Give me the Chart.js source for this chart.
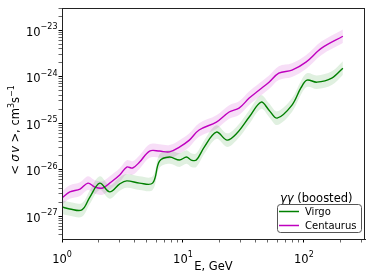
<!DOCTYPE html>
<html>
<head>
<meta charset="utf-8">
<script src="https://cdn.jsdelivr.net/npm/chart.js@4"></script>
<style>
    html, body { margin: 0; padding: 0; background: #fff; }
    canvas { display: block; }
</style>
</head>
<body>
<canvas id="sigmaChart" width="374" height="280"></canvas>
<script>
// Données (E en GeV, <σv> en cm^3 s^-1)
const virgoEnergy = [1.00, 1.16, 1.46, 1.70, 2.05, 2.48, 3.0, 3.43, 4.38, 5.61, 6.40, 7.74, 9.35, 10.7, 11.7, 12.9, 15.0, 18.9, 23.2, 28.0, 35.3, 44.3, 51.5, 60.1, 79.7, 94.4, 106, 128, 170, 210];
const virgoSigma = [1.56e-27, 1.42e-27, 1.35e-27, 2.56e-27, 5.1e-27, 3.3e-27, 4.9e-27, 5.7e-27, 5.1e-27, 5.1e-27, 1.52e-26, 1.86e-26, 1.6e-26, 1.86e-26, 1.6e-26, 1.6e-26, 3.05e-26, 6.4e-26, 4.3e-26, 6.1e-26, 1.35e-25, 2.83e-25, 1.9e-25, 1.28e-25, 2.44e-25, 5.7e-25, 8.4e-25, 7.6e-25, 9.3e-25, 1.52e-24];
const virgoLow = [1.11e-27, 1.01e-27, 0.96e-27, 1.83e-27, 3.64e-27, 2.36e-27, 3.5e-27, 4.07e-27, 3.64e-27, 3.64e-27, 1.09e-26, 1.33e-26, 1.14e-26, 1.33e-26, 1.14e-26, 1.14e-26, 2.18e-26, 4.57e-26, 3.07e-26, 4.36e-26, 0.96e-25, 2.02e-25, 1.36e-25, 0.91e-25, 1.74e-25, 4.07e-25, 6.0e-25, 5.43e-25, 6.64e-25, 1.09e-24];
const virgoHigh = [2.18e-27, 1.99e-27, 1.89e-27, 3.58e-27, 7.14e-27, 4.62e-27, 6.86e-27, 7.98e-27, 7.14e-27, 7.14e-27, 2.13e-26, 2.6e-26, 2.24e-26, 2.6e-26, 2.24e-26, 2.24e-26, 4.27e-26, 8.96e-26, 6.02e-26, 8.54e-26, 1.89e-25, 3.96e-25, 2.66e-25, 1.79e-25, 3.42e-25, 7.98e-25, 1.18e-24, 1.06e-24, 1.3e-24, 2.13e-24];

const centaurusEnergy = [1.00, 1.16, 1.41, 1.64, 1.87, 2.17, 2.48, 3.0, 3.43, 3.84, 4.38, 5.3, 6.4, 7.74, 9.35, 11.3, 13.6, 18.9, 24.1, 29.1, 35.3, 42.5, 51.5, 62.0, 79.7, 104, 140, 210];
const centaurusSigma = [2.44e-27, 3.3e-27, 3.8e-27, 5.1e-27, 4.2e-27, 4.0e-27, 5.1e-27, 7.6e-27, 1.13e-26, 1.08e-26, 1.45e-26, 2.5e-26, 2.5e-26, 2.4e-26, 3.05e-26, 4.3e-26, 7.1e-26, 1.05e-25, 1.73e-25, 2.1e-25, 3.45e-25, 5.1e-25, 7.6e-25, 1.19e-24, 1.38e-24, 2.05e-24, 4.1e-24, 7.4e-24];
const centaurusLow = [1.74e-27, 2.36e-27, 2.71e-27, 3.64e-27, 3.0e-27, 2.86e-27, 3.64e-27, 5.43e-27, 8.07e-27, 7.71e-27, 1.04e-26, 1.79e-26, 1.79e-26, 1.71e-26, 2.18e-26, 3.07e-26, 5.07e-26, 7.5e-26, 1.24e-25, 1.5e-25, 2.46e-25, 3.64e-25, 5.43e-25, 8.5e-25, 9.86e-25, 1.46e-24, 2.93e-24, 5.29e-24];
const centaurusHigh = [3.42e-27, 4.62e-27, 5.32e-27, 7.14e-27, 5.88e-27, 5.6e-27, 7.14e-27, 1.06e-26, 1.58e-26, 1.51e-26, 2.03e-26, 3.5e-26, 3.5e-26, 3.36e-26, 4.27e-26, 6.02e-26, 9.94e-26, 1.47e-25, 2.42e-25, 2.94e-25, 4.83e-25, 7.14e-25, 1.06e-24, 1.67e-24, 1.93e-24, 2.87e-24, 5.74e-24, 1.04e-23];

const seriesLabels = ['Virgo', 'Centaurus'];
const legendTitle = 'γγ (boosted)';

// Graduations : puissances de 10
const xTickExponents = [0, 1, 2];
const yTickExponents = [-27, -26, -25, -24, -23];

const GREEN = '#008000';
const MAGENTA = '#bf00bf';
const FONT = '"DejaVu Sans", sans-serif';
const TENSION = 0.35;

function toPoints(xs, ys) {
    return xs.map((x, i) => ({ x: x, y: ys[i] }));
}

function isDecade(v) {
    const l = Math.log10(v);
    return Math.abs(l - Math.round(l)) < 1e-6;
}

// Graduations mineures 1..9 x 10^n
function logTicks(scale) {
    const ticks = [];
    const lo = Math.floor(Math.log10(scale.min));
    const hi = Math.ceil(Math.log10(scale.max));
    for (let e = lo; e <= hi; e++) {
        for (let m = 1; m <= 9; m++) {
            const v = m * Math.pow(10, e);
            if (v >= scale.min * 0.9999 && v <= scale.max * 1.0001) {
                ticks.push({ value: v, major: m === 1 });
            }
        }
    }
    scale.ticks = ticks;
}

// Texte avec exposants
function drawRich(ctx, parts, x, y, align) {
    let total = 0;
    parts.forEach(p => {
        ctx.font = (p.italic ? 'italic ' : '') + p.size + 'px ' + FONT;
        p.w = p.gap !== undefined ? p.gap : ctx.measureText(p.text).width;
        total += p.w;
    });
    let cx = align === 'right' ? x - total : align === 'center' ? x - total / 2 : x;
    parts.forEach(p => {
        if (p.gap === undefined) {
            ctx.font = (p.italic ? 'italic ' : '') + p.size + 'px ' + FONT;
            ctx.fillText(p.text, cx, y + (p.dy || 0));
        }
        cx += p.w;
    });
}

function powerLabel(exp) {
    return [
        { text: '10', size: 11.5 },
        { text: String(exp).replace('-', '\u2212'), size: 8, dy: -6.5 }
    ];
}

const axisDecorations = {
    id: 'axisDecorations',
    afterDraw(chart) {
        const ctx = chart.ctx;
        const area = chart.chartArea;
        const xs = chart.scales.x;
        const ys = chart.scales.y;
        ctx.save();

        // cadre
        ctx.strokeStyle = '#222';
        ctx.lineWidth = 1;
        ctx.strokeRect(area.left + 0.5, area.top + 0.5, area.right - area.left - 1, area.bottom - area.top);

        ctx.fillStyle = '#000';
        ctx.textBaseline = 'alphabetic';

        xTickExponents.forEach(e => {
            const px = xs.getPixelForValue(Math.pow(10, e));
            drawRich(ctx, powerLabel(e), px, 263, 'center');
        });
        yTickExponents.forEach(e => {
            const py = ys.getPixelForValue(Math.pow(10, e));
            drawRich(ctx, powerLabel(e), 57.5, py + 5.5, 'right');
        });

        // titres des axes
        drawRich(ctx, [{ text: 'E, GeV', size: 11.5 }], (area.left + area.right) / 2, 270, 'center');

        ctx.translate(19, 130);
        ctx.rotate(-Math.PI / 2);
        drawRich(ctx, [
            { text: '<', size: 11.5 },
            { gap: 3.5 },
            { text: 'σ', size: 11.5, italic: true },
            { gap: 1.5 },
            { text: 'v', size: 11.5, italic: true },
            { gap: 3.5 },
            { text: '>', size: 11.5 },
            { text: ', cm', size: 11.5 },
            { text: '3', size: 8, dy: -5.5 },
            { text: 's', size: 11.5 },
            { text: '\u22121', size: 8, dy: -5.5 }
        ], 0, 0, 'center');
        ctx.restore();

        // légende
        ctx.save();
        const lx = 277, ly = 204, lw = 84, lh = 28;
        ctx.fillStyle = '#000';
        drawRich(ctx, [
            { text: 'γγ', size: 11.5, italic: true },
            { text: legendTitle.slice(2), size: 11.5 }
        ], 280, 202, 'left');
        ctx.beginPath();
        ctx.roundRect(lx + 0.5, ly + 0.5, lw, lh, 3);
        ctx.fillStyle = 'rgba(255,255,255,0.85)';
        ctx.fill();
        ctx.strokeStyle = '#555';
        ctx.lineWidth = 1;
        ctx.stroke();
        [0, 1].forEach(i => {
            const ds = chart.data.datasets[i];
            const yy = 211 + i * 14;
            ctx.strokeStyle = ds.borderColor;
            ctx.lineWidth = 1.5;
            ctx.beginPath();
            ctx.moveTo(279, yy + 0.5);
            ctx.lineTo(299, yy + 0.5);
            ctx.stroke();
            ctx.fillStyle = '#000';
            ctx.font = '10px ' + FONT;
            ctx.textBaseline = 'middle';
            ctx.fillText(ds.label, 305, yy + 1);
        });
        ctx.restore();
    }
};

function tickWidth(ctx) {
    return ctx.tick && isDecade(ctx.tick.value) ? 1 : 0.6;
}

function bandDataset(label, xs, ys, fill, colour) {
    return {
        label: label,
        data: toPoints(xs, ys),
        borderWidth: 0,
        borderColor: 'rgba(0,0,0,0)',
        backgroundColor: colour || 'rgba(0,0,0,0)',
        pointRadius: 0,
        tension: TENSION,
        fill: fill,
        order: 1
    };
}

document.addEventListener('DOMContentLoaded', () => {
    new Chart(document.getElementById('sigmaChart'), {
        type: 'line',
        data: {
            datasets: [{
                label: seriesLabels[0],
                data: toPoints(virgoEnergy, virgoSigma),
                borderColor: GREEN,
                borderWidth: 1.4,
                pointRadius: 0,
                tension: TENSION,
                fill: false,
                order: 0
            }, {
                label: seriesLabels[1],
                data: toPoints(centaurusEnergy, centaurusSigma),
                borderColor: MAGENTA,
                borderWidth: 1.4,
                pointRadius: 0,
                tension: TENSION,
                fill: false,
                order: 0
            },
            bandDataset('virgo-high', virgoEnergy, virgoHigh, false),
            bandDataset('virgo-low', virgoEnergy, virgoLow, '-1', 'rgba(0,128,0,0.12)'),
            bandDataset('centaurus-high', centaurusEnergy, centaurusHigh, false),
            bandDataset('centaurus-low', centaurusEnergy, centaurusLow, '-1', 'rgba(191,0,191,0.13)')]
        },
        options: {
            responsive: false,
            animation: false,
            devicePixelRatio: 1,
            layout: {
                padding: { top: 8, right: 9, left: 0, bottom: 0 }
            },
            plugins: {
                legend: { display: false },
                tooltip: { enabled: false }
            },
            scales: {
                x: {
                    type: 'logarithmic',
                    min: 1,
                    max: 320,
                    afterBuildTicks: logTicks,
                    afterFit: (scale) => { scale.height = 41; },
                    ticks: { display: false },
                    grid: {
                        display: true,
                        drawOnChartArea: false,
                        drawTicks: true,
                        tickLength: 3.5,
                        tickColor: '#000',
                        tickWidth: tickWidth
                    },
                    border: { display: true, color: '#222', width: 1 }
                },
                y: {
                    type: 'logarithmic',
                    min: 3.2e-28,
                    max: 3.0e-23,
                    afterBuildTicks: logTicks,
                    afterFit: (scale) => { scale.width = 62; },
                    ticks: { display: false },
                    grid: {
                        display: true,
                        drawOnChartArea: false,
                        drawTicks: true,
                        tickLength: 3.5,
                        tickColor: '#000',
                        tickWidth: tickWidth
                    },
                    border: { display: true, color: '#222', width: 1 }
                }
            }
        },
        plugins: [axisDecorations]
    });
});
</script>
</body>
</html>
